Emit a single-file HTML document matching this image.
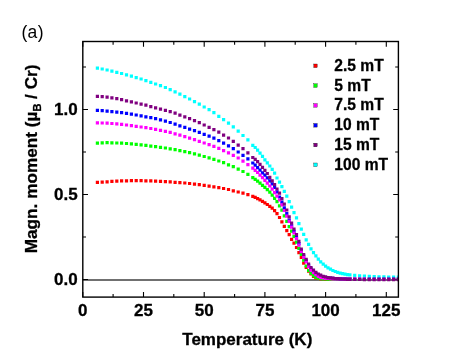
<!DOCTYPE html>
<html><head><meta charset="utf-8"><title>chart</title>
<style>
html,body{margin:0;padding:0;background:#fff;}
body{width:463px;height:356px;overflow:hidden;font-family:"Liberation Sans",sans-serif;}
svg{display:block;will-change:transform;}
text{font-family:"Liberation Sans",sans-serif;fill:#000;}
.b{font-weight:bold;stroke:#000;stroke-width:.3px;}
</style></head><body>
<svg width="463" height="356" viewBox="0 0 463 356">
<rect width="463" height="356" fill="#fff"/>
<text x="21.4" y="37.6" font-size="17.5" letter-spacing="0.4">(a)</text>
<line x1="82.8" y1="279.95" x2="398.4" y2="279.95" stroke="#404040" stroke-width="1.6"/>
<path d="M82.8 297.1v-5.2M82.8 41.5v5.2M113.1 297.1v-3.2M113.1 41.5v3.2M143.5 297.1v-5.2M143.5 41.5v5.2M173.8 297.1v-3.2M173.8 41.5v3.2M204.2 297.1v-5.2M204.2 41.5v5.2M234.6 297.1v-3.2M234.6 41.5v3.2M264.9 297.1v-5.2M264.9 41.5v5.2M295.2 297.1v-3.2M295.2 41.5v3.2M325.6 297.1v-5.2M325.6 41.5v5.2M355.9 297.1v-3.2M355.9 41.5v3.2M386.3 297.1v-5.2M386.3 41.5v5.2M82.8 279.5h5.2M398.4 279.5h-5.2M82.8 237.0h3.2M398.4 237.0h-3.2M82.8 194.5h5.2M398.4 194.5h-5.2M82.8 152.0h3.2M398.4 152.0h-3.2M82.8 109.5h5.2M398.4 109.5h-5.2M82.8 67.0h3.2M398.4 67.0h-3.2" stroke="#000" stroke-width="1.1" fill="none"/>
<clipPath id="c"><rect x="82.8" y="41.5" width="315.6" height="255.60000000000002"/></clipPath>
<g clip-path="url(#c)">
<path fill="#00ffff" d="M95.8 66.5h3.2v3.2h-3.2zM100.6 67.4h3.2v3.2h-3.2zM105.5 68.4h3.2v3.2h-3.2zM110.3 69.6h3.2v3.2h-3.2zM115.2 70.7h3.2v3.2h-3.2zM120.0 71.9h3.2v3.2h-3.2zM124.9 73.3h3.2v3.2h-3.2zM129.8 74.6h3.2v3.2h-3.2zM134.6 76.0h3.2v3.2h-3.2zM139.5 77.4h3.2v3.2h-3.2zM144.3 79.0h3.2v3.2h-3.2zM149.2 80.7h3.2v3.2h-3.2zM154.0 82.4h3.2v3.2h-3.2zM158.9 84.1h3.2v3.2h-3.2zM163.8 85.9h3.2v3.2h-3.2zM168.6 88.0h3.2v3.2h-3.2zM173.5 90.3h3.2v3.2h-3.2zM178.3 92.6h3.2v3.2h-3.2zM183.2 95.0h3.2v3.2h-3.2zM188.0 97.4h3.2v3.2h-3.2zM192.9 100.0h3.2v3.2h-3.2zM197.7 102.6h3.2v3.2h-3.2zM202.6 105.4h3.2v3.2h-3.2zM207.5 108.1h3.2v3.2h-3.2zM212.3 111.1h3.2v3.2h-3.2zM217.2 114.7h3.2v3.2h-3.2zM222.0 118.1h3.2v3.2h-3.2zM226.9 121.6h3.2v3.2h-3.2zM231.7 125.2h3.2v3.2h-3.2zM236.6 129.5h3.2v3.2h-3.2zM241.4 133.9h3.2v3.2h-3.2zM246.3 138.2h3.2v3.2h-3.2zM251.2 143.7h3.2v3.2h-3.2zM253.6 145.9h3.2v3.2h-3.2zM256.0 148.5h3.2v3.2h-3.2zM258.4 151.5h3.2v3.2h-3.2zM260.9 154.7h3.2v3.2h-3.2zM263.3 158.2h3.2v3.2h-3.2zM265.7 161.3h3.2v3.2h-3.2zM268.2 164.4h3.2v3.2h-3.2zM270.6 167.8h3.2v3.2h-3.2zM273.0 171.6h3.2v3.2h-3.2zM275.4 176.4h3.2v3.2h-3.2zM277.9 180.6h3.2v3.2h-3.2zM280.3 185.0h3.2v3.2h-3.2zM282.7 189.7h3.2v3.2h-3.2zM285.2 194.5h3.2v3.2h-3.2zM287.6 200.1h3.2v3.2h-3.2zM290.0 205.6h3.2v3.2h-3.2zM292.4 211.0h3.2v3.2h-3.2zM294.9 216.2h3.2v3.2h-3.2zM297.3 222.0h3.2v3.2h-3.2zM299.7 227.6h3.2v3.2h-3.2zM302.1 232.7h3.2v3.2h-3.2zM304.6 238.2h3.2v3.2h-3.2zM307.0 242.7h3.2v3.2h-3.2zM309.4 247.2h3.2v3.2h-3.2zM311.9 251.0h3.2v3.2h-3.2zM314.3 254.2h3.2v3.2h-3.2zM316.7 257.6h3.2v3.2h-3.2zM319.1 260.2h3.2v3.2h-3.2zM321.6 262.6h3.2v3.2h-3.2zM324.0 264.6h3.2v3.2h-3.2zM326.4 266.3h3.2v3.2h-3.2zM328.9 267.6h3.2v3.2h-3.2zM331.3 268.9h3.2v3.2h-3.2zM333.7 269.9h3.2v3.2h-3.2zM336.1 270.8h3.2v3.2h-3.2zM338.6 271.5h3.2v3.2h-3.2zM341.0 272.0h3.2v3.2h-3.2zM343.4 272.6h3.2v3.2h-3.2zM345.9 273.0h3.2v3.2h-3.2zM348.3 273.3h3.2v3.2h-3.2zM353.1 273.8h3.2v3.2h-3.2zM358.0 274.2h3.2v3.2h-3.2zM362.8 274.5h3.2v3.2h-3.2zM367.7 274.8h3.2v3.2h-3.2zM372.6 275.0h3.2v3.2h-3.2zM377.4 275.2h3.2v3.2h-3.2zM382.3 275.3h3.2v3.2h-3.2zM387.1 275.5h3.2v3.2h-3.2zM392.0 275.6h3.2v3.2h-3.2zM396.8 275.6h3.2v3.2h-3.2z"/>
<path fill="#ff0000" d="M95.8 180.7h3.2v3.2h-3.2zM100.6 180.5h3.2v3.2h-3.2zM105.5 180.2h3.2v3.2h-3.2zM110.3 179.8h3.2v3.2h-3.2zM115.2 179.5h3.2v3.2h-3.2zM120.0 179.3h3.2v3.2h-3.2zM124.9 179.2h3.2v3.2h-3.2zM129.8 179.0h3.2v3.2h-3.2zM134.6 179.0h3.2v3.2h-3.2zM139.5 179.0h3.2v3.2h-3.2zM144.3 179.2h3.2v3.2h-3.2zM149.2 179.3h3.2v3.2h-3.2zM154.0 179.5h3.2v3.2h-3.2zM158.9 179.8h3.2v3.2h-3.2zM163.8 180.0h3.2v3.2h-3.2zM168.6 180.3h3.2v3.2h-3.2zM173.5 180.7h3.2v3.2h-3.2zM178.3 181.0h3.2v3.2h-3.2zM183.2 181.4h3.2v3.2h-3.2zM188.0 181.9h3.2v3.2h-3.2zM192.9 182.6h3.2v3.2h-3.2zM197.7 183.1h3.2v3.2h-3.2zM202.6 183.8h3.2v3.2h-3.2zM207.5 184.5h3.2v3.2h-3.2zM212.3 185.2h3.2v3.2h-3.2zM217.2 186.0h3.2v3.2h-3.2zM222.0 186.9h3.2v3.2h-3.2zM226.9 187.9h3.2v3.2h-3.2zM231.7 189.2h3.2v3.2h-3.2zM236.6 190.4h3.2v3.2h-3.2zM241.4 191.6h3.2v3.2h-3.2zM246.3 193.0h3.2v3.2h-3.2zM251.2 194.8h3.2v3.2h-3.2zM253.6 195.8h3.2v3.2h-3.2zM256.0 197.1h3.2v3.2h-3.2zM258.4 198.2h3.2v3.2h-3.2zM260.9 199.7h3.2v3.2h-3.2zM263.3 201.2h3.2v3.2h-3.2zM265.7 202.9h3.2v3.2h-3.2zM268.2 204.7h3.2v3.2h-3.2zM270.6 206.6h3.2v3.2h-3.2zM273.0 209.0h3.2v3.2h-3.2zM275.4 212.0h3.2v3.2h-3.2zM277.9 215.9h3.2v3.2h-3.2zM280.3 220.2h3.2v3.2h-3.2zM282.7 224.7h3.2v3.2h-3.2zM285.2 229.1h3.2v3.2h-3.2zM287.6 233.1h3.2v3.2h-3.2zM290.0 237.7h3.2v3.2h-3.2zM292.4 241.6h3.2v3.2h-3.2zM294.9 245.9h3.2v3.2h-3.2zM297.3 251.0h3.2v3.2h-3.2zM299.7 255.9h3.2v3.2h-3.2zM302.1 261.5h3.2v3.2h-3.2zM304.6 265.9h3.2v3.2h-3.2zM307.0 269.5h3.2v3.2h-3.2zM309.4 272.4h3.2v3.2h-3.2zM311.9 274.7h3.2v3.2h-3.2zM314.3 276.2h3.2v3.2h-3.2zM316.7 276.9h3.2v3.2h-3.2zM319.1 277.3h3.2v3.2h-3.2zM321.6 277.4h3.2v3.2h-3.2zM324.0 277.5h3.2v3.2h-3.2zM326.4 277.5h3.2v3.2h-3.2zM328.9 277.6h3.2v3.2h-3.2zM331.3 277.6h3.2v3.2h-3.2zM333.7 277.6h3.2v3.2h-3.2zM336.1 277.6h3.2v3.2h-3.2zM338.6 277.6h3.2v3.2h-3.2zM341.0 277.6h3.2v3.2h-3.2zM343.4 277.6h3.2v3.2h-3.2zM345.9 277.6h3.2v3.2h-3.2zM348.3 277.6h3.2v3.2h-3.2zM353.1 277.6h3.2v3.2h-3.2zM358.0 277.7h3.2v3.2h-3.2zM362.8 277.7h3.2v3.2h-3.2zM367.7 277.7h3.2v3.2h-3.2zM372.6 277.7h3.2v3.2h-3.2zM377.4 277.7h3.2v3.2h-3.2zM382.3 277.7h3.2v3.2h-3.2zM387.1 277.7h3.2v3.2h-3.2zM392.0 277.7h3.2v3.2h-3.2zM396.8 277.7h3.2v3.2h-3.2z"/>
<path fill="#00ff00" d="M95.8 141.6h3.2v3.2h-3.2zM100.6 141.3h3.2v3.2h-3.2zM105.5 141.1h3.2v3.2h-3.2zM110.3 141.2h3.2v3.2h-3.2zM115.2 141.4h3.2v3.2h-3.2zM120.0 141.6h3.2v3.2h-3.2zM124.9 141.9h3.2v3.2h-3.2zM129.8 142.3h3.2v3.2h-3.2zM134.6 142.8h3.2v3.2h-3.2zM139.5 143.3h3.2v3.2h-3.2zM144.3 143.8h3.2v3.2h-3.2zM149.2 144.5h3.2v3.2h-3.2zM154.0 145.1h3.2v3.2h-3.2zM158.9 145.7h3.2v3.2h-3.2zM163.8 146.4h3.2v3.2h-3.2zM168.6 147.3h3.2v3.2h-3.2zM173.5 148.1h3.2v3.2h-3.2zM178.3 149.0h3.2v3.2h-3.2zM183.2 150.0h3.2v3.2h-3.2zM188.0 151.1h3.2v3.2h-3.2zM192.9 152.3h3.2v3.2h-3.2zM197.7 153.6h3.2v3.2h-3.2zM202.6 154.9h3.2v3.2h-3.2zM207.5 156.2h3.2v3.2h-3.2zM212.3 157.8h3.2v3.2h-3.2zM217.2 159.4h3.2v3.2h-3.2zM222.0 161.1h3.2v3.2h-3.2zM226.9 163.2h3.2v3.2h-3.2zM231.7 165.1h3.2v3.2h-3.2zM236.6 167.5h3.2v3.2h-3.2zM241.4 169.9h3.2v3.2h-3.2zM246.3 172.7h3.2v3.2h-3.2zM251.2 176.1h3.2v3.2h-3.2zM253.6 177.7h3.2v3.2h-3.2zM256.0 179.6h3.2v3.2h-3.2zM258.4 181.5h3.2v3.2h-3.2zM260.9 183.7h3.2v3.2h-3.2zM263.3 185.8h3.2v3.2h-3.2zM265.7 188.0h3.2v3.2h-3.2zM268.2 190.6h3.2v3.2h-3.2zM270.6 193.5h3.2v3.2h-3.2zM273.0 196.7h3.2v3.2h-3.2zM275.4 200.1h3.2v3.2h-3.2zM277.9 204.2h3.2v3.2h-3.2zM280.3 208.6h3.2v3.2h-3.2zM282.7 214.2h3.2v3.2h-3.2zM285.2 219.8h3.2v3.2h-3.2zM287.6 225.0h3.2v3.2h-3.2zM290.0 229.5h3.2v3.2h-3.2zM292.4 234.7h3.2v3.2h-3.2zM294.9 240.6h3.2v3.2h-3.2zM297.3 246.8h3.2v3.2h-3.2zM299.7 252.7h3.2v3.2h-3.2zM302.1 258.5h3.2v3.2h-3.2zM304.6 264.4h3.2v3.2h-3.2zM307.0 268.9h3.2v3.2h-3.2zM309.4 271.8h3.2v3.2h-3.2zM311.9 274.0h3.2v3.2h-3.2zM314.3 275.7h3.2v3.2h-3.2zM316.7 276.5h3.2v3.2h-3.2zM319.1 277.0h3.2v3.2h-3.2zM321.6 277.3h3.2v3.2h-3.2zM324.0 277.4h3.2v3.2h-3.2zM326.4 277.5h3.2v3.2h-3.2zM328.9 277.5h3.2v3.2h-3.2zM331.3 277.6h3.2v3.2h-3.2zM333.7 277.6h3.2v3.2h-3.2zM336.1 277.6h3.2v3.2h-3.2zM338.6 277.6h3.2v3.2h-3.2zM341.0 277.6h3.2v3.2h-3.2zM343.4 277.6h3.2v3.2h-3.2zM345.9 277.6h3.2v3.2h-3.2zM348.3 277.6h3.2v3.2h-3.2zM353.1 277.7h3.2v3.2h-3.2zM358.0 277.7h3.2v3.2h-3.2zM362.8 277.7h3.2v3.2h-3.2zM367.7 277.7h3.2v3.2h-3.2zM372.6 277.7h3.2v3.2h-3.2zM377.4 277.7h3.2v3.2h-3.2zM382.3 277.7h3.2v3.2h-3.2zM387.1 277.7h3.2v3.2h-3.2zM392.0 277.7h3.2v3.2h-3.2zM396.8 277.7h3.2v3.2h-3.2z"/>
<path fill="#0000ff" d="M95.8 108.8h3.2v3.2h-3.2zM100.6 109.1h3.2v3.2h-3.2zM105.5 109.5h3.2v3.2h-3.2zM110.3 110.0h3.2v3.2h-3.2zM115.2 110.5h3.2v3.2h-3.2zM120.0 111.0h3.2v3.2h-3.2zM124.9 111.7h3.2v3.2h-3.2zM129.8 112.6h3.2v3.2h-3.2zM134.6 113.4h3.2v3.2h-3.2zM139.5 114.3h3.2v3.2h-3.2zM144.3 115.2h3.2v3.2h-3.2zM149.2 116.0h3.2v3.2h-3.2zM154.0 117.1h3.2v3.2h-3.2zM158.9 118.3h3.2v3.2h-3.2zM163.8 119.5h3.2v3.2h-3.2zM168.6 120.9h3.2v3.2h-3.2zM173.5 122.5h3.2v3.2h-3.2zM178.3 124.2h3.2v3.2h-3.2zM183.2 125.8h3.2v3.2h-3.2zM188.0 127.5h3.2v3.2h-3.2zM192.9 129.1h3.2v3.2h-3.2zM197.7 130.7h3.2v3.2h-3.2zM202.6 132.7h3.2v3.2h-3.2zM207.5 134.6h3.2v3.2h-3.2zM212.3 136.6h3.2v3.2h-3.2zM217.2 139.1h3.2v3.2h-3.2zM222.0 141.6h3.2v3.2h-3.2zM226.9 144.3h3.2v3.2h-3.2zM231.7 147.1h3.2v3.2h-3.2zM236.6 150.4h3.2v3.2h-3.2zM241.4 153.8h3.2v3.2h-3.2zM246.3 157.2h3.2v3.2h-3.2zM251.2 161.4h3.2v3.2h-3.2zM253.6 163.6h3.2v3.2h-3.2zM256.0 166.0h3.2v3.2h-3.2zM258.4 168.6h3.2v3.2h-3.2zM260.9 171.2h3.2v3.2h-3.2zM263.3 173.6h3.2v3.2h-3.2zM265.7 176.3h3.2v3.2h-3.2zM268.2 179.2h3.2v3.2h-3.2zM270.6 182.3h3.2v3.2h-3.2zM273.0 185.7h3.2v3.2h-3.2zM275.4 190.2h3.2v3.2h-3.2zM277.9 195.4h3.2v3.2h-3.2zM280.3 200.5h3.2v3.2h-3.2zM282.7 206.2h3.2v3.2h-3.2zM285.2 212.0h3.2v3.2h-3.2zM287.6 218.5h3.2v3.2h-3.2zM290.0 224.2h3.2v3.2h-3.2zM292.4 229.7h3.2v3.2h-3.2zM294.9 235.8h3.2v3.2h-3.2zM297.3 242.0h3.2v3.2h-3.2zM299.7 249.0h3.2v3.2h-3.2zM302.1 254.6h3.2v3.2h-3.2zM304.6 259.2h3.2v3.2h-3.2zM307.0 263.8h3.2v3.2h-3.2zM309.4 267.3h3.2v3.2h-3.2zM311.9 269.9h3.2v3.2h-3.2zM314.3 272.0h3.2v3.2h-3.2zM316.7 273.6h3.2v3.2h-3.2zM319.1 274.7h3.2v3.2h-3.2zM321.6 275.5h3.2v3.2h-3.2zM324.0 276.0h3.2v3.2h-3.2zM326.4 276.4h3.2v3.2h-3.2zM328.9 276.6h3.2v3.2h-3.2zM331.3 276.8h3.2v3.2h-3.2zM333.7 277.0h3.2v3.2h-3.2zM336.1 277.1h3.2v3.2h-3.2zM338.6 277.2h3.2v3.2h-3.2zM341.0 277.3h3.2v3.2h-3.2zM343.4 277.3h3.2v3.2h-3.2zM345.9 277.4h3.2v3.2h-3.2zM348.3 277.4h3.2v3.2h-3.2zM353.1 277.5h3.2v3.2h-3.2zM358.0 277.5h3.2v3.2h-3.2zM362.8 277.5h3.2v3.2h-3.2zM367.7 277.6h3.2v3.2h-3.2zM372.6 277.6h3.2v3.2h-3.2zM377.4 277.6h3.2v3.2h-3.2zM382.3 277.6h3.2v3.2h-3.2zM387.1 277.6h3.2v3.2h-3.2zM392.0 277.6h3.2v3.2h-3.2zM396.8 277.6h3.2v3.2h-3.2z"/>
<path fill="#ff00ff" d="M95.8 121.2h3.2v3.2h-3.2zM100.6 121.4h3.2v3.2h-3.2zM105.5 121.6h3.2v3.2h-3.2zM110.3 121.9h3.2v3.2h-3.2zM115.2 122.3h3.2v3.2h-3.2zM120.0 122.8h3.2v3.2h-3.2zM124.9 123.4h3.2v3.2h-3.2zM129.8 124.0h3.2v3.2h-3.2zM134.6 124.7h3.2v3.2h-3.2zM139.5 125.4h3.2v3.2h-3.2zM144.3 126.1h3.2v3.2h-3.2zM149.2 126.9h3.2v3.2h-3.2zM154.0 127.8h3.2v3.2h-3.2zM158.9 128.7h3.2v3.2h-3.2zM163.8 129.7h3.2v3.2h-3.2zM168.6 130.8h3.2v3.2h-3.2zM173.5 132.2h3.2v3.2h-3.2zM178.3 133.6h3.2v3.2h-3.2zM183.2 135.1h3.2v3.2h-3.2zM188.0 136.5h3.2v3.2h-3.2zM192.9 138.1h3.2v3.2h-3.2zM197.7 139.7h3.2v3.2h-3.2zM202.6 141.4h3.2v3.2h-3.2zM207.5 143.1h3.2v3.2h-3.2zM212.3 144.8h3.2v3.2h-3.2zM217.2 146.7h3.2v3.2h-3.2zM222.0 149.0h3.2v3.2h-3.2zM226.9 151.2h3.2v3.2h-3.2zM231.7 153.8h3.2v3.2h-3.2zM236.6 156.4h3.2v3.2h-3.2zM241.4 159.6h3.2v3.2h-3.2zM246.3 163.0h3.2v3.2h-3.2zM251.2 166.6h3.2v3.2h-3.2zM253.6 168.8h3.2v3.2h-3.2zM256.0 170.9h3.2v3.2h-3.2zM258.4 173.5h3.2v3.2h-3.2zM260.9 176.1h3.2v3.2h-3.2zM263.3 178.7h3.2v3.2h-3.2zM265.7 181.5h3.2v3.2h-3.2zM268.2 184.4h3.2v3.2h-3.2zM270.6 187.6h3.2v3.2h-3.2zM273.0 191.0h3.2v3.2h-3.2zM275.4 194.5h3.2v3.2h-3.2zM277.9 198.4h3.2v3.2h-3.2zM280.3 203.2h3.2v3.2h-3.2zM282.7 208.9h3.2v3.2h-3.2zM285.2 214.6h3.2v3.2h-3.2zM287.6 219.8h3.2v3.2h-3.2zM290.0 225.6h3.2v3.2h-3.2zM292.4 231.4h3.2v3.2h-3.2zM294.9 237.0h3.2v3.2h-3.2zM297.3 243.6h3.2v3.2h-3.2zM299.7 250.1h3.2v3.2h-3.2zM302.1 255.9h3.2v3.2h-3.2zM304.6 260.4h3.2v3.2h-3.2zM307.0 265.0h3.2v3.2h-3.2zM309.4 268.5h3.2v3.2h-3.2zM311.9 271.1h3.2v3.2h-3.2zM314.3 273.1h3.2v3.2h-3.2zM316.7 274.7h3.2v3.2h-3.2zM319.1 275.7h3.2v3.2h-3.2zM321.6 276.3h3.2v3.2h-3.2zM324.0 276.7h3.2v3.2h-3.2zM326.4 276.9h3.2v3.2h-3.2zM328.9 277.1h3.2v3.2h-3.2zM331.3 277.2h3.2v3.2h-3.2zM333.7 277.3h3.2v3.2h-3.2zM336.1 277.3h3.2v3.2h-3.2zM338.6 277.4h3.2v3.2h-3.2zM341.0 277.4h3.2v3.2h-3.2zM343.4 277.5h3.2v3.2h-3.2zM345.9 277.5h3.2v3.2h-3.2zM348.3 277.6h3.2v3.2h-3.2zM353.1 277.6h3.2v3.2h-3.2zM358.0 277.6h3.2v3.2h-3.2zM362.8 277.6h3.2v3.2h-3.2zM367.7 277.7h3.2v3.2h-3.2zM372.6 277.7h3.2v3.2h-3.2zM377.4 277.7h3.2v3.2h-3.2zM382.3 277.7h3.2v3.2h-3.2zM387.1 277.7h3.2v3.2h-3.2zM392.0 277.7h3.2v3.2h-3.2zM396.8 277.7h3.2v3.2h-3.2z"/>
<path fill="#800080" d="M95.8 94.7h3.2v3.2h-3.2zM100.6 95.0h3.2v3.2h-3.2zM105.5 95.5h3.2v3.2h-3.2zM110.3 96.2h3.2v3.2h-3.2zM115.2 97.1h3.2v3.2h-3.2zM120.0 98.1h3.2v3.2h-3.2zM124.9 99.2h3.2v3.2h-3.2zM129.8 100.3h3.2v3.2h-3.2zM134.6 101.4h3.2v3.2h-3.2zM139.5 102.6h3.2v3.2h-3.2zM144.3 103.6h3.2v3.2h-3.2zM149.2 105.0h3.2v3.2h-3.2zM154.0 106.3h3.2v3.2h-3.2zM158.9 107.5h3.2v3.2h-3.2zM163.8 108.7h3.2v3.2h-3.2zM168.6 110.0h3.2v3.2h-3.2zM173.5 111.6h3.2v3.2h-3.2zM178.3 113.5h3.2v3.2h-3.2zM183.2 115.2h3.2v3.2h-3.2zM188.0 117.1h3.2v3.2h-3.2zM192.9 119.0h3.2v3.2h-3.2zM197.7 121.0h3.2v3.2h-3.2zM202.6 123.4h3.2v3.2h-3.2zM207.5 125.7h3.2v3.2h-3.2zM212.3 128.1h3.2v3.2h-3.2zM217.2 130.6h3.2v3.2h-3.2zM222.0 133.5h3.2v3.2h-3.2zM226.9 136.4h3.2v3.2h-3.2zM231.7 139.8h3.2v3.2h-3.2zM236.6 143.5h3.2v3.2h-3.2zM241.4 147.1h3.2v3.2h-3.2zM246.3 151.3h3.2v3.2h-3.2zM251.2 155.9h3.2v3.2h-3.2zM253.6 157.8h3.2v3.2h-3.2zM256.0 160.1h3.2v3.2h-3.2zM258.4 162.7h3.2v3.2h-3.2zM260.9 165.7h3.2v3.2h-3.2zM263.3 168.7h3.2v3.2h-3.2zM265.7 171.9h3.2v3.2h-3.2zM268.2 175.7h3.2v3.2h-3.2zM270.6 179.2h3.2v3.2h-3.2zM273.0 183.1h3.2v3.2h-3.2zM275.4 187.4h3.2v3.2h-3.2zM277.9 191.6h3.2v3.2h-3.2zM280.3 197.1h3.2v3.2h-3.2zM282.7 202.6h3.2v3.2h-3.2zM285.2 208.4h3.2v3.2h-3.2zM287.6 215.2h3.2v3.2h-3.2zM290.0 221.5h3.2v3.2h-3.2zM292.4 227.6h3.2v3.2h-3.2zM294.9 233.1h3.2v3.2h-3.2zM297.3 239.8h3.2v3.2h-3.2zM299.7 247.5h3.2v3.2h-3.2zM302.1 252.9h3.2v3.2h-3.2zM304.6 257.8h3.2v3.2h-3.2zM307.0 262.4h3.2v3.2h-3.2zM309.4 265.9h3.2v3.2h-3.2zM311.9 268.6h3.2v3.2h-3.2zM314.3 270.8h3.2v3.2h-3.2zM316.7 272.4h3.2v3.2h-3.2zM319.1 273.6h3.2v3.2h-3.2zM321.6 274.7h3.2v3.2h-3.2zM324.0 275.3h3.2v3.2h-3.2zM326.4 276.0h3.2v3.2h-3.2zM328.9 276.3h3.2v3.2h-3.2zM331.3 276.6h3.2v3.2h-3.2zM333.7 276.9h3.2v3.2h-3.2zM336.1 277.1h3.2v3.2h-3.2zM338.6 277.3h3.2v3.2h-3.2zM341.0 277.4h3.2v3.2h-3.2zM343.4 277.6h3.2v3.2h-3.2zM345.9 277.7h3.2v3.2h-3.2zM348.3 277.8h3.2v3.2h-3.2zM353.1 277.9h3.2v3.2h-3.2zM358.0 277.9h3.2v3.2h-3.2zM362.8 278.0h3.2v3.2h-3.2zM367.7 278.0h3.2v3.2h-3.2zM372.6 278.0h3.2v3.2h-3.2zM377.4 278.1h3.2v3.2h-3.2zM382.3 278.1h3.2v3.2h-3.2zM387.1 278.1h3.2v3.2h-3.2zM392.0 278.1h3.2v3.2h-3.2zM396.8 278.1h3.2v3.2h-3.2z"/>
</g>
<rect x="82.8" y="41.5" width="315.6" height="255.60000000000002" fill="none" stroke="#000" stroke-width="1.4"/>
<g class="b" font-size="17"><text x="82.8" y="315.5" text-anchor="middle">0</text><text x="143.5" y="315.5" text-anchor="middle">25</text><text x="204.2" y="315.5" text-anchor="middle">50</text><text x="264.9" y="315.5" text-anchor="middle">75</text><text x="325.6" y="315.5" text-anchor="middle">100</text><text x="386.3" y="315.5" text-anchor="middle">125</text><text x="77.6" y="284.9" text-anchor="end">0.0</text><text x="77.6" y="199.9" text-anchor="end">0.5</text><text x="77.6" y="114.9" text-anchor="end">1.0</text></g>
<g class="b" font-size="16.5"><rect x="313.8" y="64.0" width="3.4" height="3.6" fill="#ff0000"/><text transform="translate(334.3 70.7) scale(0.945 1)">2.5 mT</text><rect x="313.8" y="83.8" width="3.4" height="3.6" fill="#00ff00"/><text transform="translate(334.3 90.5) scale(0.945 1)">5 mT</text><rect x="313.8" y="103.6" width="3.4" height="3.6" fill="#ff00ff"/><text transform="translate(334.3 110.3) scale(0.945 1)">7.5 mT</text><rect x="313.8" y="123.5" width="3.4" height="3.6" fill="#0000ff"/><text transform="translate(334.3 130.1) scale(0.945 1)">10 mT</text><rect x="313.8" y="143.2" width="3.4" height="3.6" fill="#800080"/><text transform="translate(334.3 149.9) scale(0.945 1)">15 mT</text><rect x="313.8" y="163.0" width="3.4" height="3.6" fill="#00ffff"/><text transform="translate(334.3 169.7) scale(0.945 1)">100 mT</text></g>
<text class="b" font-size="17" x="247.3" y="345.2" text-anchor="middle">Temperature (K)</text>
<text class="b" font-size="17.2" transform="translate(36.9 158.9) rotate(-90)" text-anchor="middle">Magn. moment (µ<tspan font-size="11" dy="4">B</tspan><tspan dy="-4"> / Cr)</tspan></text>
</svg>
</body></html>
